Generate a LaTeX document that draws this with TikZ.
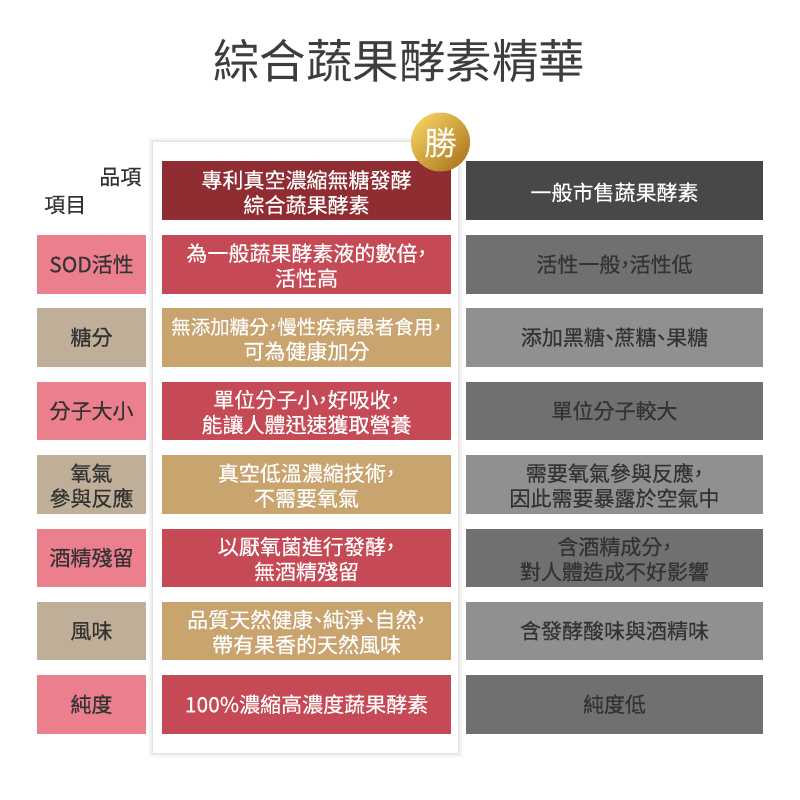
\documentclass[tikz,border=0pt]{standalone}
\usepackage{fontspec}
\setmainfont[RawFeature={embolden=0.35}]{Noto Sans CJK TC}
\newfontfamily\plainfont{Noto Sans CJK TC}
\usetikzlibrary{shadows,fit}
\definecolor{cPink}{HTML}{EC7F8D}
\definecolor{cKhaki}{HTML}{BFAE98}
\definecolor{cHead}{HTML}{8F2D32}
\definecolor{cRed}{HTML}{C64A55}
\definecolor{cTan}{HTML}{C9A46F}
\definecolor{cCoal}{HTML}{484848}
\definecolor{cGrayA}{HTML}{707070}
\definecolor{cGrayB}{HTML}{909090}
\definecolor{cInk}{HTML}{333333}
\definecolor{cGoldA}{HTML}{EFCB5C}
\definecolor{cGoldB}{HTML}{B07C22}
\newcommand{\pc}{\kern-0.28em，\kern-0.28em}
\newcommand{\dn}{\kern-0.27em、\kern-0.27em}
\newcommand{\tl}{\rule{0pt}{20.5pt}}
\tikzset{
  x=1pt,y=-1pt,
  cell/.style={anchor=north west,inner sep=0pt,outer sep=0pt,align=center,font=\fontsize{21}{25}\selectfont,minimum height=58.5pt},
  lab/.style={cell,minimum width=109pt,text=cInk},
  mid/.style={cell,minimum width=289pt,text=white},
  rgt/.style={cell,minimum width=297pt},
  ink/.style={text=cInk}
}
\begin{document}
\begin{tikzpicture}
\useasboundingbox (0,0) rectangle (800,800);
\fill[white] (0,0) rectangle (800,800);
\node[anchor=center,inner sep=0pt,font=\plainfont\fontsize{46.5}{50}\selectfont,text=cInk!95!white] (title) at (399,61) {綜合蔬果酵素精華};
% panel with soft shadow
\foreach \o/\a in {5/0.012,4/0.016,3/0.02,2/0.028,1/0.035}
  \fill[black,opacity=\a] (153-\o,142-\o) rectangle (458+\o,753+\o);
\node[anchor=north west,fill=white,inner sep=0pt,minimum width=305pt,minimum height=611pt] (panel) at (153,142) {};
% header
\node[anchor=east,inner sep=0pt,font=\fontsize{21}{25}\selectfont,text=cInk] (hA) at (141.5,177) {品項};
\node[anchor=west,inner sep=0pt,font=\fontsize{21}{25}\selectfont,text=cInk] (hB) at (44,205) {項目};
\node[mid,fill=cHead] (m0) at (162,161) {\rule{0pt}{22pt}專利真空濃縮無糖發酵\\綜合蔬果酵素};
\node[rgt,fill=cCoal,text=white] (r0) at (466,161) {\rule{0pt}{22pt}一般市售蔬果酵素};
% rows
\node[lab,fill=cPink] (l1) at (37,235) {SOD活性};
\node[mid,fill=cRed] (m1) at (162,235) {\tl 為一般蔬果酵素液的數倍\pc\\活性高};
\node[rgt,fill=cGrayA,ink] (r1) at (466,235) {活性一般\pc 活性低};
\node[lab,fill=cKhaki] (l2) at (37,308) {糖分};
\node[mid,fill=cTan] (m2) at (162,308) {\tl{\fontsize{19.5}{25}\selectfont 無添加糖分\pc 慢性疾病患者食用\pc}\\可為健康加分};
\node[rgt,fill=cGrayB,ink] (r2) at (466,308) {添加黑糖\dn 蔗糖\dn 果糖};
\node[lab,fill=cPink] (l3) at (37,381.5) {分子大小};
\node[mid,fill=cRed] (m3) at (162,381.5) {\tl 單位分子小\pc 好吸收\pc\\能讓人體迅速獲取營養};
\node[rgt,fill=cGrayA,ink] (r3) at (466,381.5) {單位分子較大};
\node[lab,fill=cKhaki] (l4) at (37,455) {\tl 氧氣\\參與反應};
\node[mid,fill=cTan] (m4) at (162,455) {\tl 真空低溫濃縮技術\pc\\不需要氧氣};
\node[rgt,fill=cGrayB,ink] (r4) at (466,455) {\tl 需要氧氣參與反應\pc\\因此需要暴露於空氣中};
\node[lab,fill=cPink] (l5) at (37,528.5) {酒精殘留};
\node[mid,fill=cRed] (m5) at (162,528.5) {\tl 以厭氧菌進行發酵\pc\\無酒精殘留};
\node[rgt,fill=cGrayA,ink] (r5) at (466,528.5) {\tl 含酒精成分\pc\\對人體造成不好影響};
\node[lab,fill=cKhaki] (l6) at (37,601.5) {風味};
\node[mid,fill=cTan] (m6) at (162,601.5) {\tl 品質天然健康\dn 純淨\dn 自然\pc\\帶有果香的天然風味};
\node[rgt,fill=cGrayB,ink] (r6) at (466,601.5) {含發酵酸味與酒精味};
\node[lab,fill=cPink] (l7) at (37,675) {純度};
\node[mid,fill=cRed] (m7) at (162,675) {100\%濃縮高濃度蔬果酵素};
\node[rgt,fill=cGrayA,ink] (r7) at (466,675) {純度低};
% badge
\shade[left color=cGoldA,right color=cGoldB,shading angle=45] (440.5,142) circle (29.5);
\node[inner sep=0pt,font=\plainfont\fontsize{33}{35}\selectfont,text=white] (badge) at (440.5,143) {勝};
\end{tikzpicture}
\end{document}
